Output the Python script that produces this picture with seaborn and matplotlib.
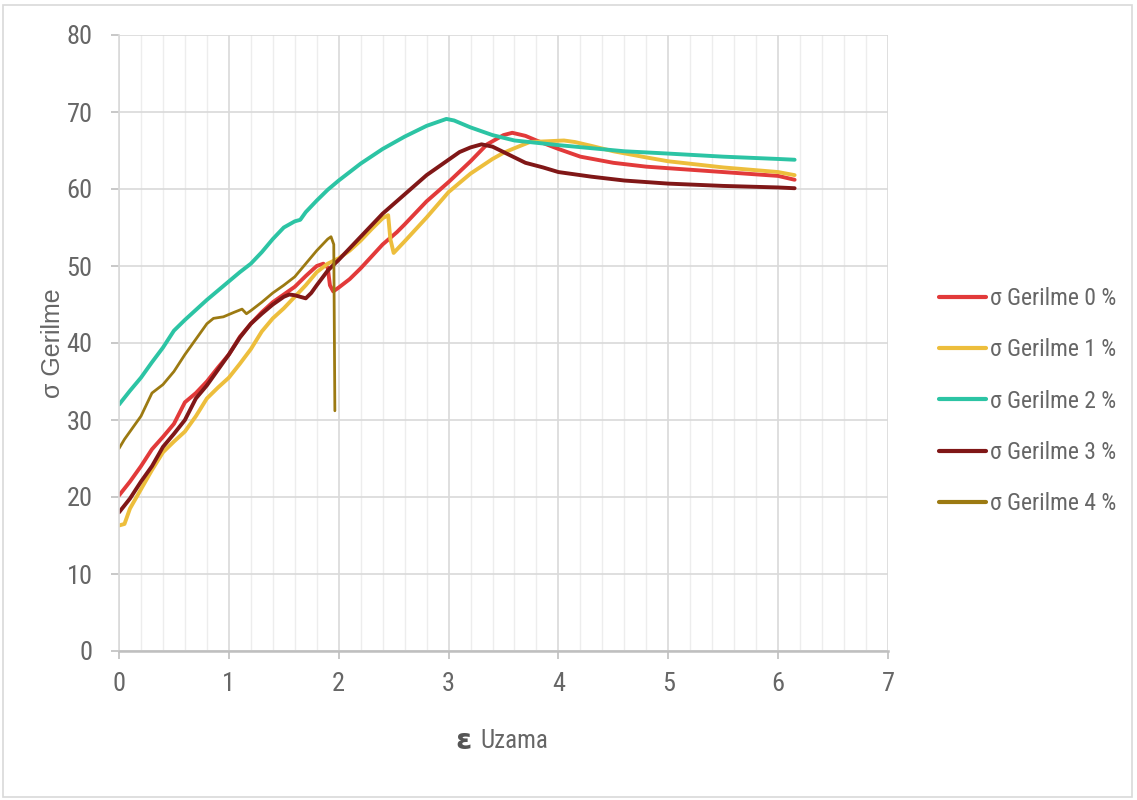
import numpy as np
import pandas as pd
import matplotlib
matplotlib.use("Agg")
import matplotlib.pyplot as plt
from matplotlib.patches import Rectangle
from matplotlib.ticker import MultipleLocator
import seaborn as sns

# ---------------- data ----------------
x0 = [0, 0.1, 0.2, 0.3, 0.4, 0.5, 0.6, 0.7, 0.8, 0.9, 1.0, 1.1, 1.2, 1.3, 1.4, 1.5, 1.6, 1.7,
      1.8, 1.86, 1.9, 1.92, 1.95, 2.0, 2.1, 2.2, 2.4, 2.53, 2.6, 2.8, 3.0, 3.2, 3.35, 3.5, 3.58,
      3.7, 3.8, 4.0, 4.2, 4.5, 4.8, 5.0, 5.5, 6.0, 6.15]
y0 = [20.2, 22.0, 24.0, 26.2, 27.8, 29.5, 32.3, 33.5, 35.0, 36.8, 38.5, 40.8, 42.5, 44.0, 45.3,
      46.3, 47.3, 48.7, 50.0, 50.3, 49.8, 47.5, 46.7, 47.2, 48.3, 49.7, 52.8, 54.4, 55.4, 58.4,
      60.9, 63.6, 65.8, 67.0, 67.3, 66.9, 66.3, 65.2, 64.2, 63.4, 62.9, 62.7, 62.2, 61.7, 61.2]

x1 = [0, 0.05, 0.1, 0.2, 0.3, 0.4, 0.5, 0.6, 0.7, 0.8, 0.9, 1.0, 1.1, 1.2, 1.3, 1.4, 1.5, 1.6,
      1.7, 1.8, 1.9, 2.0, 2.1, 2.2, 2.3, 2.4, 2.45, 2.47, 2.5, 2.6, 2.8, 3.0, 3.2, 3.4, 3.5, 3.6,
      3.74, 3.9, 4.05, 4.15, 4.3, 4.5, 4.8, 5.0, 5.5, 6.0, 6.15]
y1 = [16.3, 16.5, 18.5, 21.0, 23.5, 25.8, 27.2, 28.5, 30.5, 32.8, 34.2, 35.5, 37.3, 39.2, 41.5,
      43.2, 44.5, 46.0, 47.5, 49.2, 50.3, 51.0, 52.0, 53.3, 54.8, 56.2, 56.6, 53.5, 51.7, 53.2,
      56.3, 59.6, 62.0, 63.9, 64.7, 65.3, 66.1, 66.2, 66.3, 66.1, 65.6, 64.9, 64.1, 63.6, 62.8,
      62.2, 61.8]

x2 = [0, 0.1, 0.2, 0.3, 0.4, 0.5, 0.6, 0.7, 0.8, 0.9, 1.0, 1.1, 1.2, 1.3, 1.4, 1.5, 1.6, 1.65,
      1.7, 1.8, 1.9, 2.0, 2.2, 2.4, 2.6, 2.8, 2.98, 3.05, 3.2, 3.4, 3.6, 3.8, 4.0, 4.3, 4.6, 5.0,
      5.5, 6.0, 6.15]
y2 = [32.0, 33.8, 35.5, 37.5, 39.4, 41.6, 43.0, 44.3, 45.6, 46.8, 48.0, 49.2, 50.3, 51.8, 53.5,
      55.0, 55.8, 56.0, 57.0, 58.5, 59.9, 61.1, 63.3, 65.2, 66.8, 68.2, 69.1, 68.9, 68.0, 67.0,
      66.3, 66.0, 65.7, 65.3, 64.9, 64.6, 64.2, 63.9, 63.8]

x3 = [0, 0.1, 0.2, 0.3, 0.4, 0.5, 0.6, 0.7, 0.8, 0.9, 1.0, 1.1, 1.2, 1.3, 1.4, 1.5, 1.55, 1.6,
      1.7, 1.75, 1.8, 1.9, 2.0, 2.2, 2.4, 2.6, 2.8, 3.0, 3.1, 3.2, 3.3, 3.4, 3.5, 3.6, 3.7, 3.86,
      4.0, 4.3, 4.6, 5.0, 5.5, 6.0, 6.15]
y3 = [18.0, 19.8, 22.0, 24.0, 26.5, 28.2, 30.0, 32.8, 34.5, 36.5, 38.5, 40.7, 42.5, 43.8, 45.0,
      46.0, 46.3, 46.2, 45.8, 46.5, 47.5, 49.4, 50.8, 53.8, 56.8, 59.3, 61.8, 63.8, 64.8, 65.4,
      65.8, 65.5, 64.8, 64.1, 63.4, 62.8, 62.2, 61.6, 61.1, 60.7, 60.4, 60.2, 60.1]

x4 = [0, 0.05, 0.1, 0.2, 0.3, 0.4, 0.5, 0.6, 0.7, 0.8, 0.86, 0.95, 1.05, 1.12, 1.16, 1.2, 1.3,
      1.4, 1.5, 1.6, 1.7, 1.8, 1.9, 1.93, 1.955, 1.965]
y4 = [26.3, 27.5, 28.5, 30.5, 33.5, 34.6, 36.3, 38.5, 40.5, 42.5, 43.2, 43.4, 44.0, 44.4, 43.8,
      44.2, 45.3, 46.5, 47.5, 48.6, 50.3, 52.0, 53.5, 53.8, 52.8, 31.2]

labels = ["σ Gerilme 0 %", "σ Gerilme 1 %", "σ Gerilme 2 %", "σ Gerilme 3 %", "σ Gerilme 4 %"]
xticks = [0, 1, 2, 3, 4, 5, 6, 7]
yticks = [0, 10, 20, 30, 40, 50, 60, 70, 80]
x_title = "Uzama"
x_symbol = "ε"
y_title = "σ Gerilme"

colors = ["#E23A3A", "#EDBE3C", "#2CC4A4", "#801717", "#9C7A12"]
widths = [2.8, 2.8, 2.8, 2.8, 2.0]

frames = []
for xs, ys, lab in zip([x0, x1, x2, x3, x4], [y0, y1, y2, y3, y4], labels):
    frames.append(pd.DataFrame({"x": xs, "y": ys, "series": lab}))
df = pd.concat(frames, ignore_index=True)

# ---------------- styling ----------------
sns.set_theme(style="white")
cond = ["Roboto Condensed", "DejaVu Sans"]
plt.rcParams["font.family"] = cond

fig = plt.figure(figsize=(11.37, 8.0), dpi=100)
ax = fig.add_axes([119 / 1137, 1 - 651 / 800, (888 - 119) / 1137, (651 - 35) / 800])

for lab, col, lw in zip(labels, colors, widths):
    sub = df[df["series"] == lab]
    sns.lineplot(data=sub, x="x", y="y", sort=False, estimator=None, color=col,
                 linewidth=lw, ax=ax, label=lab, legend=False)

ax.set_xlim(0, 7)
ax.set_ylim(0, 80)
ax.set_xticks(xticks)
ax.set_yticks(yticks)
ax.xaxis.set_minor_locator(MultipleLocator(0.2))
ax.grid(which="major", axis="both", color="#D9D9D9", linewidth=1.2)
ax.grid(which="minor", axis="x", color="#EDEDED", linewidth=1.0)
ax.set_axisbelow(True)
for s in ["top", "right"]:
    ax.spines[s].set_visible(False)
ax.spines["left"].set_color("#D9D9D9")
ax.spines["left"].set_linewidth(1.2)
ax.spines["bottom"].set_color("#BFBFBF")
ax.spines["bottom"].set_linewidth(1.8)
ax.tick_params(axis="both", which="major", direction="out", length=6, width=1.2,
               color="#BFBFBF", labelcolor="#666666", labelsize=19, bottom=True, left=True)
ax.tick_params(axis="x", which="major", pad=9)
ax.tick_params(axis="y", which="major", pad=13)
ax.tick_params(axis="x", which="minor", length=0)
ax.set_xlabel("")
ax.set_ylabel("")

fig.text(53 / 1137, 1 - 343 / 800, y_title, rotation=90, ha="center", va="center",
         fontsize=18, color="#666666", family=["Liberation Sans", "DejaVu Sans"])
fig.text(472 / 1137, 1 - 741 / 800, x_symbol, ha="right", va="center", fontsize=21,
         fontweight="bold", color="#555555", family=["DejaVu Sans"])
fig.text(480 / 1137, 1 - 741 / 800, x_title, ha="left", va="center", fontsize=18,
         color="#666666")

handles, labs = ax.get_legend_handles_labels()
leg = fig.legend(handles, labs, loc="center left", bbox_to_anchor=(918 / 1137, 1 - 401 / 800),
                 frameon=False, fontsize=17, handlelength=2.0, handletextpad=0.15,
                 labelspacing=1.2, labelcolor="#666666")
for h in leg.get_lines():
    h.set_linewidth(3.0)

fig.patches.append(Rectangle((3 / 1137, 3 / 800), 1 - 8 / 1137, 1 - 8 / 800,
                             transform=fig.transFigure, fill=False, edgecolor="#D9D9D9",
                             linewidth=1.2))

fig.savefig("out.png", dpi=100, facecolor="white")
